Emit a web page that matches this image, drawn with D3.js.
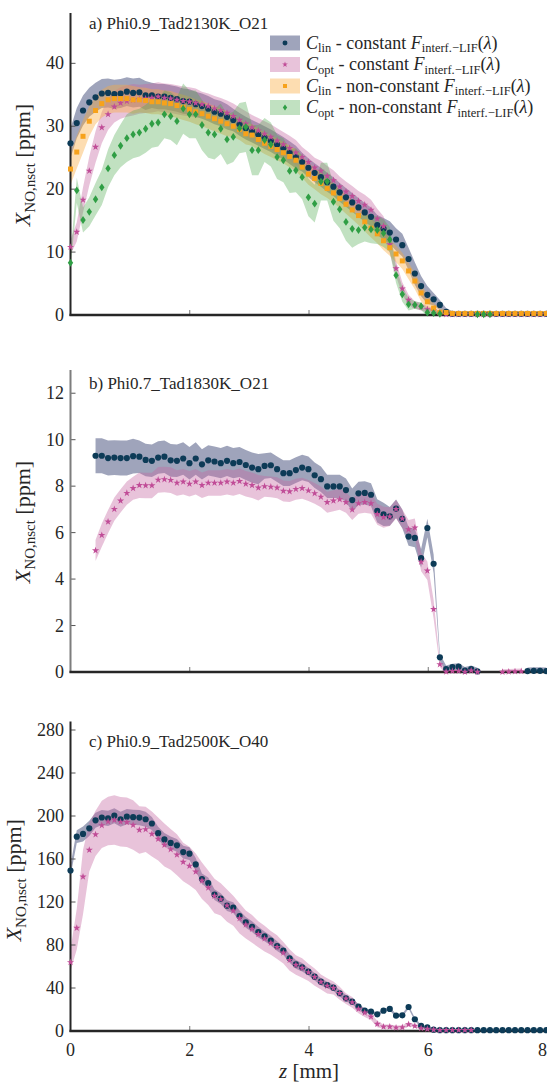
<!DOCTYPE html>
<html><head><meta charset="utf-8">
<script src="https://cdn.jsdelivr.net/npm/d3@7"></script>
<style>body{margin:0;background:#fff}svg{display:block}</style>
</head><body>
<svg id="chart" width="547" height="1082" font-family="Liberation Serif"></svg>
<script>
// ---------- DATA ----------
const zPos = [0,0.105,0.21,0.315,0.42,0.525,0.63,0.735,0.84,0.945,1.05,1.155,1.26,1.365,1.47,1.575,1.68,1.785,1.89,1.995,2.1,2.205,2.31,2.415,2.52,2.625,2.73,2.835,2.94,3.045,3.15,3.255,3.36,3.465,3.57,3.675,3.78,3.885,3.99,4.095,4.2,4.305,4.41,4.515,4.62,4.725,4.83,4.935,5.04,5.145,5.25,5.355,5.46,5.565,5.67,5.775,5.88,5.985,6.09,6.195,6.3,6.405,6.51,6.615,6.72,6.825,6.93,7.035,7.14,7.245,7.35,7.455,7.56,7.665,7.77,7.875,7.98];
const xTicks = [0,2,4,6,8];

// panel a
const aTicks = [0,10,20,30,40];
const aLinConst = [27.3,30.5,32.5,33.8,34.6,35.2,35.3,35.1,35.2,35.5, 35.3,35.4,34.9,34.9,34.7,34.7,34.5,34.3,34.0,33.9, 33.5,33.2,32.8,32.3,32.0,31.5,31.0,30.3,29.7,29.2, 28.7,28.2,27.7,27.1,26.5,25.8,25.1,24.3,23.4,22.6, 21.9,21.1,20.4,19.5,18.7,17.9,17.1,16.3,15.6,14.3, 13.7,13.1,12.0,11.1,8.9,6.6,4.6,3.2,2.5,1.6, 0.5,0.2,0.2,0.2,0.2,0.2,0.2,0.2,0.2,0.2, 0.2,0.2,0.2,0.2,0.2,0.2,0.2];
const aLinConstErr = [2.4,2.4,2.4,2.3,2.3,2.3,2.3,2.3,2.3,2.3, 2.3,2.3,2.3,2.0,2.0,2.0,2.0,2.0,2.0,2.0, 2.0,2.0,2.0,2.0,2.0,2.0,1.8,1.8,1.8,1.8, 1.8,1.8,1.8,1.8,1.8,1.8,1.8,1.5,1.5,1.5, 1.5,1.5,1.5,1.5,1.5,1.5,1.5,1.5,1.5,1.6, 1.7,1.8,1.8,1.8,1.8,1.8,1.6,1.4,1.0,0.8, 0.6,0.4,0.4,0.4,0.4,0.4,0.4,0.4,0.4,0.4, 0.4,0.4,0.4,0.4,0.4,0.4,0.4];
const aOptConst = [10.8,13.2,18.3,22.9,26.7,29.8,31.9,33.1,33.7,34.0, 34.2,34.3,34.4,34.5,34.7,34.5,34.4,34.2,34.0,33.9, 33.7,33.5,33.2,32.8,32.5,32.1,31.6,31.0,30.4,29.8, 29.3,28.8,28.3,27.7,27.1,26.5,25.8,25.1,24.3,23.4, 22.9,22.1,21.4,20.4,19.6,18.9,18.1,17.5,16.7,15.3, 14.1,11.2,7.4,4.2,2.4,1.6,1.3,0.9,0.7,0.3, 0.1,0.1,0.1,0.1,0.1,0.1,0.1,0.1,0.1,0.1, 0.1,0.1,0.1,0.1,0.1,0.1,0.1];
const aOptConstErr = [1.2,1.5,2.0,2.3,2.5,2.5,2.5,2.5,2.5,2.5, 2.5,2.3,2.3,2.3,2.3,2.3,2.3,2.3,2.3,2.3, 2.3,2.0,2.0,2.0,2.0,2.0,2.0,2.0,2.0,2.0, 2.0,2.0,2.0,2.0,2.0,2.0,2.0,1.6,1.6,1.6, 1.6,1.6,1.6,1.6,1.6,1.6,1.6,1.6,1.6,1.6, 1.6,1.4,1.2,1.0,0.8,0.6,0.6,0.5,0.4,0.3, 0.3,0.3,0.3,0.3,0.3,0.3,0.3,0.3,0.3,0.3, 0.3,0.3,0.3,0.3,0.3,0.3,0.3];
const aLinVar = [23.2,25.9,28.4,30.8,32.5,33.6,34.2,34.4,34.4,34.4, 34.2,34.2,34.1,33.9,33.9,33.7,33.6,33.3,33.0,32.7, 32.3,32.0,31.6,31.2,30.8,30.4,30.0,29.5,28.8,28.6, 27.9,27.3,26.8,26.3,25.8,25.2,24.6,23.5,22.4,21.7, 20.9,20.1,19.4,18.5,17.6,16.7,15.8,14.8,13.8,12.9, 11.8,10.7,9.7,8.6,7.0,5.4,3.5,2.1,1.1,0.4, 0.4,0.25,0.25,0.25,0.25,0.25,0.25,0.25,0.25,0.25, 0.25,0.25,0.25,0.25,0.25,0.25,0.25];
const aLinVarErr = [2.5,2.6,2.6,2.4,2.2,2.2,2.2,2.2,2.2,2.2, 2.2,2.0,2.0,2.0,2.0,2.0,2.0,2.0,2.0,2.0, 2.0,2.0,2.0,2.0,2.0,2.0,1.7,1.7,1.7,1.7, 1.7,1.7,1.7,1.7,1.7,1.7,1.7,1.7,1.7,1.7, 1.7,1.5,1.5,1.5,1.5,1.5,1.5,1.5,1.5,1.5, 1.5,1.3,1.3,1.3,1.3,1.3,1.3,1.2,0.8,0.6, 0.5,0.4,0.4,0.4,0.4,0.4,0.4,0.4,0.4,0.4, 0.4,0.4,0.4,0.4,0.4,0.4,0.4];
const aOptVar = [8.3,19.8,15.1,16.4,18.4,20.3,23.3,25.4,26.9,28.1, 28.7,29.0,29.6,30.4,30.6,31.9,31.6,30.8,32.8,31.9, 31.9,30.2,29.0,28.7,29.6,27.9,28.3,29.7,29.9,26.2, 26.2,27.8,27.1,25.1,24.6,22.9,23.0,21.9,18.7,17.7, 21.2,21.2,18.0,16.8,14.8,13.7,13.5,13.9,13.6,13.5, 13.0,12.0,6.3,3.3,1.7,1.6,1.4,0.4,0.3,0.2, null,null,null,null,null,0.1,0.1,0.1,null,null, null,null,null,null,null,null,null];
const aOptVarErr = [1.0,2.0,2.0,2.3,2.6,2.8,3.0,3.2,3.4,3.8, 3.8,3.8,3.8,3.8,3.8,3.8,3.8,3.8,4.0,3.8, 3.8,4.0,4.0,4.0,4.0,4.0,4.0,4.0,4.0,4.0, 4.0,3.5,3.5,3.5,3.5,3.5,3.5,3.5,3.0,3.0, 3.0,3.0,3.0,3.0,3.0,3.0,2.2,2.2,2.2,2.2, 2.2,2.0,1.2,1.2,1.0,0.6,0.6,0.6,0.5,0.4, 0.3,0.3,0.3,0.3,0.3,0.3,0.3,0.3,0.3,0.3, 0.3,0.3,0.3,0.3,0.3,0.3,0.3];

// panel b
const bTicks = [0,2,4,6,8,10,12];
const bLinConst = [null,null,null,null,9.31,9.31,9.21,9.23,9.21,9.21, 9.29,9.27,9.13,9.09,9.23,9.27,9.11,9.09,9.19,8.99, 9.19,8.94,9.11,9.06,8.99,9.09,8.99,9.04,8.91,8.80, 8.73,8.87,8.90,8.73,8.56,8.56,8.69,8.80,8.73,8.47, 8.30,7.99,7.99,7.99,7.83,7.40,7.69,7.71,7.63,6.94, 6.79,6.70,7.03,6.59,5.83,5.77,4.90,6.20,4.66,0.63, 0.13,0.21,0.23,0.06,0.13,0.03,null,null,null,null, null,null,null,0.04,0.05,0.05,0.04];
const bLinConstErr = [0,0,0,0,0.75,0.75,0.75,0.75,0.75,0.75, 0.75,0.7,0.7,0.7,0.7,0.7,0.7,0.7,0.7,0.7, 0.7,0.65,0.65,0.65,0.65,0.65,0.65,0.65,0.65,0.65, 0.65,0.55,0.55,0.55,0.55,0.55,0.55,0.55,0.55,0.55, 0.55,0.5,0.5,0.5,0.5,0.5,0.5,0.5,0.5,0.5, 0.5,0.4,0.4,0.4,0.4,0.4,0.4,0.4,0.4,0.15, 0.15,0.15,0.15,0.15,0.15,0.15,0.15,0.15,0.15,0.15, 0.15,0.15,0.15,0.15,0.15,0.15,0.15];
const bOptConst = [null,null,null,null,5.23,5.89,6.47,7.01,7.37,7.70, 7.91,8.04,8.03,8.03,8.27,8.29,8.26,8.14,8.19,8.10, 8.19,8.04,8.14,8.14,8.14,8.19,8.14,8.21,8.10,8.04, 7.93,7.99,7.97,7.93,7.79,7.77,7.87,7.91,7.81,7.69, 7.54,7.31,7.37,7.43,7.31,6.99,7.26,7.31,7.26,6.79, 6.66,6.69,7.01,6.60,6.14,6.21,4.74,4.36,2.70,0.33, 0.01,0.04,0.04,0.0,0.06,0.0,null,null,null,0.0, 0.01,0.02,0.03,null,null,null,null];
const bOptConstErr = [0,0,0,0,0.45,0.5,0.5,0.5,0.5,0.5, 0.5,0.55,0.55,0.55,0.55,0.55,0.55,0.55,0.55,0.55, 0.55,0.55,0.55,0.55,0.55,0.55,0.55,0.55,0.55,0.55, 0.55,0.45,0.45,0.45,0.45,0.45,0.45,0.45,0.45,0.45, 0.45,0.45,0.45,0.45,0.45,0.45,0.45,0.45,0.45,0.45, 0.45,0.4,0.4,0.4,0.4,0.4,0.4,0.4,0.4,0.12, 0.12,0.12,0.12,0.12,0.12,0.12,0.12,0.12,0.12,0.12, 0.12,0.12,0.12,0.12,0.12,0.12,0.12];

// panel c
const cTicks = [0,40,80,120,160,200,240,280];
const cLinConst = [149.3,180.8,183.3,188.5,196.0,198.6,197.8,200.3,197.0,199.4, 198.9,198.5,197.0,193.0,184.0,178.2,175.0,172.7,166.4,165.0, 155.0,141.4,137.7,126.8,123.1,116.6,114.7,107.0,101.0,97.0, 92.0,88.0,84.0,79.0,74.7,67.6,62.0,59.3,55.2,50.5, 45.9,42.8,40.3,35.1,30.4,27.3,22.6,18.9,18.0,15.5, 18.9,20.5,14.3,14.6,22.3,10.9,4.7,3.4,1.2,0.8, 0.8,0.8,0.8,0.8,0.8,0.8,0.8,0.8,0.8,0.8, 0.8,0.8,0.8,0.8,0.8,0.8,0.8];
const cLinConstErr = [5,6,7,7,7,7,7,7,7,7, 7,7,7,6,6,6,6,6,6,6, 6,5,5,5,5,5,5,5,5,5, 5,4.5,4.5,4.5,4,4,4,4,3.5,3.5, 3.5,3,3,3,3,2.5,2.5,2,1.5,1.5, 1.5,1.5,1.5,1.5,1.5,1.5,1.2,1,0.8,0.6, 0.5,0.5,0.5,0.5,0.5,0.5,0.5,0.5,0.5,0.5, 0.5,0.5,0.5,0.5,0.5,0.5,0.5];
const cOptConst = [63.9,95.8,143.5,168.4,182.8,191.3,194.8,196.3,194.6,194.2, 191.6,187.0,187.6,183.3,178.6,173.0,169.0,164.0,157.2,153.5, 148.2,139.8,133.3,125.6,122.5,116.6,111.9,104.8,99.0,95.0, 90.0,86.0,82.0,78.0,72.8,66.0,61.4,58.6,54.6,50.2, 45.6,42.0,40.0,35.1,30.1,26.7,20.5,17.0,13.3,6.5, 4.0,4.0,3.1,3.4,6.2,4.7,2.5,1.9,1.2,0.8, 0.8,0.8,0.8,0.8,0.8,null,null,null,null,null, null,null,null,null,null,null,null];
const cOptConstErrHi = [12,18,25,25,22,23,23,23,23,23, 23,22,21,21,20,20,19,19,18,18, 17,17,16,16,15,15,14,14,13,13, 12,12,11,11,10,10,9,9,8,8, 7,7,6,6,5,5,4,4,3,3, 2,2,2,2,2,1.5,1,1,1,1, 1,1,1,1,1,0,0,0,0,0, 0,0,0,0,0,0,0];
const cOptConstErrLo = [8,20,35,20,20,21,22,23,23,23, 23,22,21,21,20,20,19,19,18,18, 17,17,16,16,15,15,14,14,13,13, 12,12,11,11,10,10,9,9,8,8, 7,7,6,6,5,5,4,4,3,3, 2,2,2,2,2,1.5,1,1,1,1, 1,1,1,1,1,0,0,0,0,0, 0,0,0,0,0,0,0];

// ---------- STYLE ----------
const INK = "#262626";
const SERIF = "Liberation Serif";
const styles = {
  linConst: {mark:"#0d3b57", band:"#3f4a78", op:0.5, sym:"circle"},
  optConst: {mark:"#c04c97", band:"#c56aa3", op:0.4, sym:"star"},
  linVar:   {mark:"#f7a21b", band:"#f9a93c", op:0.4, sym:"square"},
  optVar:   {mark:"#2f9e44", band:"#4caa4c", op:0.35, sym:"diamond"}
};
const symPath = {
  circle: d3.symbol(d3.symbolCircle, 30)(),
  star: d3.symbol(d3.symbolStar, 16)(),
  square: d3.symbol(d3.symbolSquare, 25)(),
  diamond: "M0,-3.9L2.7,0L0,3.9L-2.7,0Z"
};

const svg = d3.select("#chart");
const x = d3.scaleLinear().domain([0,8]).range([70.5,547.5]);

function addText(parent){
  return parent.append("text").attr("font-family", SERIF).attr("fill", INK);
}
function rich(t, parts){
  parts.forEach(p=>{
    const s = t.append("tspan").attr("font-family", SERIF).text(p.t);
    if(p.it) s.attr("font-style","italic");
    if(p.fs) s.attr("font-size",p.fs);
    if(p.dy) s.attr("dy",p.dy);
  });
}

const panels = [
  {id:"a", top:13, bottom:315, ymax:48, ticks:aTicks, title:"a) Phi0.9_Tad2130K_O21", titleY:29, axisColor:INK, ylabX:30, ylabDy:1, legend:true},
  {id:"b", top:370, bottom:672, ymax:13, ticks:bTicks, title:"b) Phi0.7_Tad1830K_O21", titleY:389, axisColor:"#7d7d7d", ylabX:30, ylabDy:1},
  {id:"c", top:721.4, bottom:1031, ymax:288, ticks:cTicks, title:"c) Phi0.9_Tad2500K_O40", titleY:747, axisColor:INK, ylabX:21, ylabDy:4, xaxis:true}
];
panels[0].series = [
  {st:"linConst", v:aLinConst, lo:aLinConstErr, hi:aLinConstErr},
  {st:"optConst", v:aOptConst, lo:aOptConstErr, hi:aOptConstErr},
  {st:"linVar", v:aLinVar, lo:aLinVarErr, hi:aLinVarErr},
  {st:"optVar", v:aOptVar, lo:aOptVarErr, hi:aOptVarErr}];
panels[1].series = [
  {st:"linConst", v:bLinConst, lo:bLinConstErr, hi:bLinConstErr},
  {st:"optConst", v:bOptConst, lo:bOptConstErr, hi:bOptConstErr}];
panels[2].series = [
  {st:"linConst", v:cLinConst, lo:cLinConstErr, hi:cLinConstErr},
  {st:"optConst", v:cOptConst, lo:cOptConstErrLo, hi:cOptConstErrHi}];

panels.forEach(P=>{
  const y = d3.scaleLinear().domain([0,P.ymax]).range([P.bottom,P.top]);
  const g = svg.append("g");
  const clipId = "clip"+P.id;
  svg.append("clipPath").attr("id",clipId).append("rect")
    .attr("x",x(0)).attr("y",P.top).attr("width",x(8)-x(0)).attr("height",P.bottom-P.top);

  // bands
  P.series.forEach(S=>{
    const s = styles[S.st];
    const pts = zPos.map((z,i)=>({z, v:S.v[i], lo:S.lo[i], hi:S.hi[i]}));
    const area = d3.area().defined(d=>d.v!=null)
      .x(d=>x(d.z)).y0(d=>y(d.v-d.lo)).y1(d=>y(d.v+d.hi));
    g.append("path").datum(pts).attr("d",area)
      .attr("fill",s.band).attr("fill-opacity",s.op)
      .attr("clip-path",`url(#${clipId})`);
  });

  // y ticks
  P.ticks.forEach(t=>{
    g.append("line").attr("x1",x(0)).attr("x2",x(0)+5).attr("y1",y(t)).attr("y2",y(t))
      .attr("stroke","#555").attr("stroke-width",1);
    addText(g).attr("x",64).attr("y",y(t)+6).attr("text-anchor","end")
      .attr("font-size",18).text(t);
  });
  // x ticks
  xTicks.slice(1,4).forEach(t=>{
    g.append("line").attr("x1",x(t)).attr("x2",x(t)).attr("y1",P.bottom).attr("y2",P.bottom-5)
      .attr("stroke","#777").attr("stroke-width",1);
  });
  // axes lines
  g.append("line").attr("x1",x(0)).attr("x2",x(0)).attr("y1",P.top).attr("y2",P.bottom+1)
    .attr("stroke",P.axisColor).attr("stroke-width",2);
  g.append("line").attr("x1",x(0)-1).attr("x2",547).attr("y1",P.bottom).attr("y2",P.bottom)
    .attr("stroke",INK).attr("stroke-width",2.5);

  // markers
  P.series.forEach(S=>{
    const s = styles[S.st];
    const pts = zPos.map((z,i)=>({z, v:S.v[i]})).filter(d=>d.v!=null);
    g.append("g").selectAll("path").data(pts).join("path")
      .attr("d",symPath[s.sym]).attr("fill",s.mark)
      .attr("transform",d=>`translate(${x(d.z)},${y(d.v)})`);
  });

  // title
  addText(g).attr("x",89).attr("y",P.titleY).attr("font-size",17).text(P.title);

  // y label
  const cy = (P.top+P.bottom)/2 + P.ylabDy;
  const yl = addText(g).attr("transform",`translate(${P.ylabX},${cy}) rotate(-90)`)
    .attr("text-anchor","middle").attr("font-size",22);
  rich(yl,[{t:"X",it:1},{t:"NO,nsct",fs:15,dy:5},{t:"\u00a0[ppm]",dy:-5}]);

  // x axis labels
  if(P.xaxis){
    xTicks.forEach(t=>{
      addText(g).attr("x",t===8?547:x(t)).attr("y",P.bottom+25)
        .attr("text-anchor",t===8?"end":"middle").attr("font-size",18).text(t);
    });
    const xl = addText(g).attr("x",309).attr("y",1078).attr("text-anchor","middle")
      .attr("font-size",21);
    rich(xl,[{t:"z",it:1},{t:"\u00a0[mm]"}]);
  }

  // legend
  if(P.legend){
    const rows = [
      {st:"linConst", c:"lin", k:"constant"},
      {st:"optConst", c:"opt", k:"constant"},
      {st:"linVar", c:"lin", k:"non-constant"},
      {st:"optVar", c:"opt", k:"non-constant"}];
    const lg = svg.append("g");
    rows.forEach((r,i)=>{
      const ry = 43 + i*21.5;
      const s = styles[r.st];
      lg.append("rect").attr("x",270).attr("y",ry-7.5).attr("width",30).attr("height",15)
        .attr("fill",s.band).attr("fill-opacity",s.op);
      lg.append("path").attr("d",symPath[s.sym]).attr("fill",s.mark)
        .attr("transform",`translate(285,${ry}) scale(0.8)`);
      const t = addText(lg).attr("x",306).attr("y",ry+5.5).attr("font-size",18);
      rich(t,[{t:"C",it:1},{t:r.c,fs:12.5,dy:3.5},{t:"\u00a0-\u00a0"+r.k+"\u00a0",dy:-3.5},{t:"F",it:1},
        {t:"interf.−LIF",fs:12.5,dy:3.5},{t:"(",dy:-3.5},{t:"λ",it:1},{t:")"}]);
    });
  }
});
</script>
</body></html>
